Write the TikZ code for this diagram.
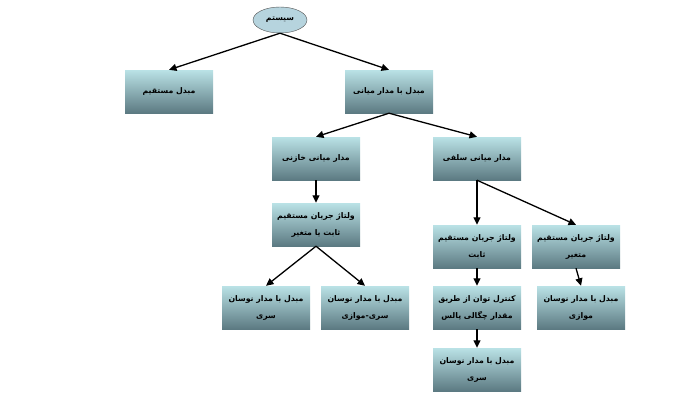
\documentclass[tikz,border=0pt]{standalone}
\usepackage{fontspec}
\newfontfamily\arabicfont[Script=Arabic]{DejaVu Sans}
\TeXXeTstate=1
\usetikzlibrary{shapes.geometric,arrows.meta}
\definecolor{boxtop}{RGB}{186,226,230}
\definecolor{boxbot}{RGB}{92,122,130}
\definecolor{ellfill}{RGB}{182,212,222}
\newcommand{\rl}[1]{\beginR #1\endR}
\begin{document}
\begin{tikzpicture}[x=1pt,y=-1pt,
  box/.style={rectangle, minimum width=88pt, minimum height=43pt,
    top color=boxtop, bottom color=boxbot,
    font=\arabicfont\bfseries\fontsize{7.8}{17}\selectfont, align=center, inner sep=2pt},
  arr/.style={-{Triangle[length=7.5pt,width=7pt]}, line width=1.3pt, black}]
\useasboundingbox (0,0) rectangle (700,400);
\node[ellipse, draw=black!70, fill=ellfill, minimum width=54pt, minimum height=26pt,
  font=\arabicfont\bfseries\fontsize{7.8}{9}\selectfont] (sys) at (280,20) {\rl{سیستم}};
\node[box] (direct) at (169,91.5) {\rl{مبدل مستقیم}};
\node[box] (mid) at (389,91.5) {\rl{مبدل با مدار میانی}};
\node[box] (cap) at (316,158.5) {\rl{مدار میانی خازنی}};
\node[box] (ind) at (477,158.5) {\rl{مدار میانی سلفی}};
\node[box] (vcap) at (316,224.5) {\rl{ولتاژ جریان مستقیم}\\\rl{ثابت یا متغیر}};
\node[box] (vfix) at (477,246.5) {\rl{ولتاژ جریان مستقیم}\\\rl{ثابت}};
\node[box] (vvar) at (576,246.5) {\rl{ولتاژ جریان مستقیم}\\\rl{متغیر}};
\node[box] (ser) at (266,307.5) {\rl{مبدل با مدار نوسان}\\\rl{سری}};
\node[box] (serpar) at (365,307.5) {\rl{مبدل با مدار نوسان}\\\rl{سری-موازی}};
\node[box] (pdm) at (477,307.5) {\rl{کنترل توان از طریق}\\\rl{مقدار چگالی پالس}};
\node[box] (par) at (581,307.5) {\rl{مبدل با مدار نوسان}\\\rl{موازی}};
\node[box] (ser2) at (477,369.5) {\rl{مبدل با مدار نوسان}\\\rl{سری}};
\draw[arr] (sys.south) -- (direct.north);
\draw[arr] (sys.south) -- (mid.north);
\draw[arr] (mid.south) -- (cap.north);
\draw[arr] (mid.south) -- (ind.north);
\draw[arr] (cap.south) -- (vcap.north);
\draw[arr] (vcap.south) -- (ser.north);
\draw[arr] (vcap.south) -- (serpar.north);
\draw[arr] (ind.south) -- (vfix.north);
\draw[arr] (ind.south) -- (vvar.north);
\draw[arr] (vfix.south) -- (pdm.north);
\draw[arr] (vvar.south) -- (par.north);
\draw[arr] (pdm.south) -- (ser2.north);
\end{tikzpicture}
\end{document}
